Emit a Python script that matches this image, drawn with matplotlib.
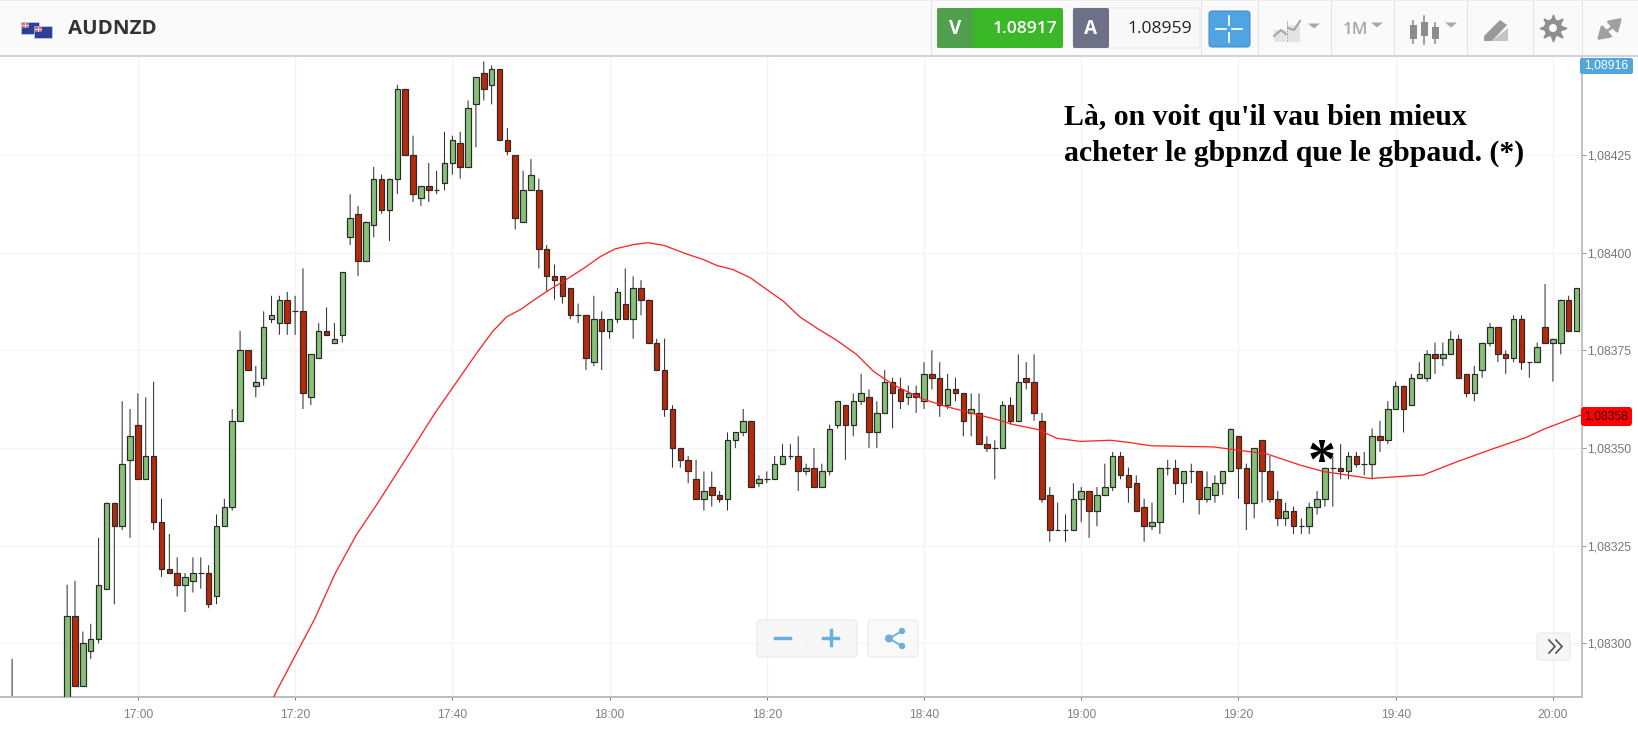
import matplotlib
matplotlib.use("Agg")
import matplotlib.pyplot as plt
from matplotlib.patches import Rectangle, FancyBboxPatch, Circle, Polygon
from matplotlib.ticker import FuncFormatter

# Prices are given in 1e-5 above 1.08000 (e.g. 388 -> 1.08388); minutes counted from 17:00
MINUTES = [-16] + list(range(-9, 184))
OPEN = [278,
 280,307,289,298,301,314,336,330,347,356,342,348,331,319,318,315,316,318,318,312,
 330,335,357,375,366,368,383,382,388,385,385,363,373,380,377,379,404,410,398,407,
 419,411,419,442,425,414,417,416,418,423,428,422,438,446,443,447,429,425,408,416,
 416,401,394,394,391,384,384,372,383,380,383,387,383,391,388,377,370,360,350,347,
 342,337,340,338,337,352,354,357,341,342,342,346,348,348,344,345,340,344,356,361,
 356,362,363,354,359,367,365,363,364,362,369,368,361,365,364,359,359,351,350,350,
 361,357,368,367,357,338,329,329,329,337,339,334,338,340,348,343,341,335,330,331,
 345,345,341,344,344,337,338,341,344,353,345,336,352,344,337,332,334,330,330,335,
 337,345,345,344,348,346,346,353,352,360,366,361,368,368,374,373,374,378,369,364,
 370,377,381,374,373,383,372,372,381,377,377,388,380]
HIGH = [296,
 315,316,303,305,327,336,336,362,360,364,363,367,337,328,322,318,322,322,320,333,
 337,360,380,375,371,385,389,389,390,389,396,374,382,386,382,395,415,412,408,422,
 420,419,443,442,430,417,423,421,431,430,431,439,445,449,448,447,432,425,421,424,
 419,402,397,394,391,387,384,389,385,383,391,396,394,393,388,378,378,361,350,348,
 347,344,344,339,354,354,360,357,343,344,348,351,351,353,346,350,346,356,362,361,
 364,369,365,362,370,368,368,366,366,372,375,372,369,368,364,364,364,353,352,362,
 363,374,372,374,359,340,336,333,341,340,339,340,346,349,349,345,343,337,336,345,
 347,347,344,346,344,344,343,344,355,353,346,350,352,348,339,336,335,332,336,339,
 345,348,351,349,349,349,355,357,362,367,366,369,372,375,377,377,380,379,369,371,
 377,382,381,375,384,384,372,377,392,378,388,389,391]
LOW = [275,
 278,289,289,296,300,314,310,329,327,342,342,329,317,318,312,308,313,314,309,310,
 330,334,357,370,363,366,382,379,379,379,360,361,373,379,377,377,402,394,398,404,
 410,403,415,425,413,412,413,415,416,420,419,422,427,439,438,429,425,406,408,416,
 396,390,388,387,383,382,370,371,370,378,382,383,378,384,377,370,358,345,345,341,
 337,334,335,336,334,350,353,340,340,341,342,346,347,339,343,340,340,343,355,347,
 353,361,350,350,359,355,360,361,359,360,365,358,360,362,353,353,351,349,342,350,
 356,357,365,357,336,326,329,326,329,331,327,330,338,339,342,336,334,326,329,328,
 343,338,336,341,333,336,336,338,344,337,329,332,336,336,330,330,328,328,328,333,
 335,335,342,342,345,343,342,349,351,360,354,361,368,367,369,371,374,368,363,362,
 368,376,372,369,372,370,368,372,377,367,374,380,380]
CLOSE = [280,
 307,289,300,301,315,336,330,346,353,342,348,331,319,318,315,317,318,318,310,330,
 335,357,375,370,367,381,384,388,382,385,364,374,380,379,378,395,409,398,408,419,
 411,419,442,425,415,417,416,416,423,429,422,437,445,442,447,429,426,409,416,420,
 401,394,393,389,384,384,373,383,380,383,390,383,391,388,377,370,360,350,347,344,
 337,339,338,337,352,354,357,340,342,342,346,348,348,344,345,340,344,355,362,356,
 362,364,354,359,367,364,362,364,363,369,368,361,365,364,357,360,351,350,350,361,
 357,367,367,359,337,329,329,329,337,339,334,338,340,348,343,340,334,330,331,345,
 345,341,344,344,337,340,341,344,355,345,336,350,344,337,332,334,330,330,335,337,
 345,345,344,348,346,346,353,352,360,366,360,368,369,374,373,374,378,368,364,369,
 377,381,374,373,383,372,372,376,377,378,388,380,391]

MA_MIN = [17.0,17.7,22.5,25.1,27.8,30.5,34.5,37.8,40.5,43.2,45.1,46.9,48.7,50.3,52.4,54.6,56.7,58.8,60.7,
 63.0,64.9,66.9,69.8,71.9,73.6,75.7,77.9,80.0,82.1,84.2,86.6,88.9,91.4,93.6,96.1,98.7,99.9,102.9,105.9,109.3,111.4,
 114.4,116.9,119.9,123.7,126.2,128.8,133.4,136.8,139.8,143.6,147.9,150.8,156.8,159.7,163.5,167.8,172.5,176.7,178.8,183.6]
MA_VAL = [285,288,306.3,317.9,327.8,335.9,348.5,359,366.8,374.6,379.8,383.6,385.5,387.8,390.6,393.3,396,399,401,
 402.1,402.6,401.9,399.7,398.3,396.8,395.7,393.6,390.6,387.6,383.6,380.4,377.6,374,369.6,366.2,363.6,362.5,360.6,359,357.3,356,
 354.8,352.5,351.7,352,351.4,350.6,350.4,350.3,349.5,348.5,345.6,344,342.2,342.6,343.1,346.5,349.9,352.8,354.8,358.5]

X_TICKS = [0, 20, 40, 60, 80, 100, 120, 140, 160, 180]
X_LABELS = ["17:00","17:20","17:40","18:00","18:20","18:40","19:00","19:20","19:40","20:00"]
Y_TICKS = [300, 325, 350, 375, 400, 425]
NOTE = "Là, on voit qu'il vau bien mieux\nacheter le gbpnzd que le gbpaud. (*)"

def price(v):
    return 1.08 + v / 1e5

W, H = 1638, 730
DPI = 100
PX = 72 / DPI
fig = plt.figure(figsize=(W / DPI, H / DPI), dpi=DPI, facecolor="white")
ax = fig.add_axes([0, (H - 697) / H, 1582 / W, (697 - 56) / H])
ax.set_xlim(-17.54, 183.7)
ax.set_ylim(price(286.25), price(450.4))
ax.set_axisbelow(True)
ax.grid(True, color="#f4f4f4", lw=1.4 * PX)

ax.set_xticks(X_TICKS)
ax.set_xticklabels(X_LABELS)
ax.set_yticks([price(v) for v in Y_TICKS])
ax.yaxis.set_major_formatter(FuncFormatter(lambda v, _: f"{v:.5f}".replace(".", ",")))
ax.yaxis.tick_right()
ax.tick_params(axis="y", length=4 * PX, width=1 * PX, color="#999999", labelcolor="#777777",
               labelsize=12.2 * PX, pad=1 * PX, labelfontfamily="Liberation Sans")
ax.tick_params(axis="x", length=3 * PX, width=1 * PX, color="#777777", labelcolor="#808080",
               labelsize=12 * PX, pad=9 * PX, labelfontfamily="Liberation Sans")
for s in ("top", "left"):
    ax.spines[s].set_visible(False)
ax.spines["bottom"].set(color="#bdbdbd", lw=2 * PX)
ax.spines["right"].set(color="#b5b5b5", lw=1.6 * PX)

GREEN, RED, EDGE = "#86c177", "#b8290a", "#2a2a2a"
for m, o, h, l, c in zip(MINUTES, OPEN, HIGH, LOW, CLOSE):
    ln, = ax.plot([m, m], [price(l), price(h)], color=EDGE, lw=1.0 * PX, zorder=2,
                  solid_capstyle="butt", antialiased=True)
    ln.set_snap(False)
    lo, hi = min(o, c), max(o, c)
    ax.bar(m, price(hi) - price(lo), bottom=price(lo), width=0.7,
           color=GREEN if c >= o else RED, edgecolor=EDGE, lw=1.2 * PX, zorder=3)
ax.plot(MA_MIN, [price(v) for v in MA_VAL], color="#ff2424", lw=1.3 * PX, zorder=4)

# overlay in pixel space for the platform chrome
ui = fig.add_axes([0, 0, 1, 1], zorder=5)
ui.set_xlim(0, W)
ui.set_ylim(H, 0)
ui.axis("off")
ui.patch.set_alpha(0)

def rect(x0, y0, x1, y1, fc, ec="none", lw=0):
    ui.add_patch(Rectangle((x0, y0), x1 - x0, y1 - y0, fc=fc, ec=ec, lw=lw * PX))

def rbox(x0, y0, x1, y1, fc, ec="none", lw=0, r=3, z=2, alpha=None):
    ui.add_patch(FancyBboxPatch((x0 + r, y0 + r), x1 - x0 - 2 * r, y1 - y0 - 2 * r,
                                boxstyle=f"round,pad={r},rounding_size={r}",
                                fc=fc, ec=ec, lw=lw * PX, zorder=z, alpha=alpha))

def label(x, y, s, size, color, weight="normal", ha="center", family="Open Sans", z=6):
    ui.text(x, y, s, fontsize=size * PX, color=color, fontweight=weight, ha=ha, va="center",
            family=family, zorder=z)

def tri(x, y, w=6, h=5, c="#a8a8a8"):
    ui.add_patch(Polygon([(x - w, y - h / 2), (x + w, y - h / 2), (x, y + h / 2)], fc=c, ec="none"))

# header
rect(0, 0, W, 56, "#fafafa")
rect(0, 0, W, 1.2, "#eeeeee")
rect(0, 54.8, W, 56.6, "#d2d2d2")
for xd in (931, 1201, 1258, 1331, 1394, 1467, 1533, 1582):
    rect(xd, 1, xd + 1, 55, "#e3e3e3")

# flags
for x0, y0 in ((21, 22), (34, 26)):
    rect(x0, y0, x0 + 18, y0 + 12, "#2c3f9c", "#d8d8e4", 0.6)
    rect(x0 + 1, y0 + 1, x0 + 8, y0 + 6, "#c06a80")
    rect(x0 + 3.8, y0 + 1, x0 + 5.2, y0 + 6, "#f4e0e4")
    rect(x0 + 1, y0 + 3, x0 + 8, y0 + 4, "#f4e0e4")
label(68, 29.5, "AUDNZD", 20.5, "#333333", "bold", ha="left")

# bid/ask
rbox(937, 8, 1063, 48, "#3ab827", r=2)
rbox(937, 8, 973, 48, "#509f4c", r=2)
label(955, 29, "V", 19, "white", "bold")
label(1025, 29, "1.08917", 17.5, "white", "semibold")
rbox(1073, 8, 1200, 48, "#f8f8f8", "#e6e6e6", 1, r=2)
rbox(1073, 8, 1109, 48, "#6c7188", r=2)
label(1091, 29, "A", 19, "white", "bold")
label(1160, 29, "1.08959", 17.5, "#222222")
rbox(1209, 11, 1250, 47, "#4fa4e2", "#3f88c6", 1, r=3)
for a, b in (((1216, 29), (1226, 29)), ((1232, 29), (1242, 29)), ((1229, 16), (1229, 25)), ((1229, 33), (1229, 42))):
    ui.plot([a[0], b[0]], [a[1], b[1]], color="white", lw=1.8 * PX, zorder=6)

# toolbar icons
GREY = "#a4a4a4"
rect(1274, 30, 1286, 42, "#e4e4e4")
rect(1288, 25, 1300, 42, "#e4e4e4")
ui.plot([1274, 1281, 1286], [36, 30, 34], color=GREY, lw=2 * PX)
ui.plot([1288, 1294, 1300], [28, 30, 21], color=GREY, lw=2 * PX)
ui.plot([1287, 1287], [21, 42], color=GREY, lw=1 * PX, ls=(0, (2, 1)))
tri(1314, 26)
label(1356, 30, "1M", 17, "#a8a8a8", "semibold")
tri(1377, 25)
for xc, t, b, lo, hi in ((1413, 25, 39, 21, 43), (1424, 22, 36, 16, 44), (1435, 27, 39, 23, 43)):
    ui.plot([xc, xc], [lo, hi], color="#8c8c8c", lw=1.6 * PX)
    rect(xc - 3.5, t, xc + 3.5, b, "#8c8c8c")
tri(1451, 25)
ui.add_patch(Polygon([(1484, 36), (1500, 20), (1507, 25), (1492, 41), (1484, 41)], fc="#999999", ec="none"))
ui.add_patch(Polygon([(1492, 41), (1508, 41), (1508, 28)], fc="#c4c4c4", ec="none"))
ui.plot([1553], [28], marker=(8, 1, 0), ms=27 * PX, color="#8f8f8f", zorder=6)
ui.add_patch(Circle((1553, 28), 9, fc="#8f8f8f", ec="none", zorder=6))
ui.add_patch(Circle((1553, 28), 4, fc="#fafafa", ec="none", zorder=7))
for a, b in (((1610, 29), (1622, 18)), ((1608, 30), (1597, 40))):
    ui.annotate("", xy=b, xytext=a, arrowprops=dict(arrowstyle="-|>,head_width=0.45,head_length=0.7",
                color="#a0a0a0", lw=3 * PX, shrinkA=0, shrinkB=0))

# price badges
rbox(1580, 58, 1633, 74, "#52a6da", r=2)
label(1606.5, 66, "1,08916", 12.2, "white", family="Liberation Sans")
rbox(1581, 407, 1632, 426, "#ff0000", r=3)
label(1606.5, 416.5, "1,08358", 12.2, "#3a0000", family="Liberation Sans")

# annotation
ui.text(1064, 135.5, NOTE, fontsize=29.7 * PX, family="Liberation Serif", fontweight="bold",
        color="black", va="center", ha="left", linespacing=1.4, zorder=6)
ui.text(1322, 464, "*", fontsize=56 * PX, family="Liberation Serif", fontweight="bold",
        color="black", va="center", ha="center", zorder=6)

# zoom and share controls
rbox(757, 620, 857, 657, "#f7f7f7", "#e4e4e4", 1, r=3, alpha=0.9)
rect(805.5, 621, 807, 656, "#dddddd")
BLUE = "#6aaedb"
ui.plot([775, 790], [637.5, 637.5], color=BLUE, lw=3.4 * PX, zorder=6)
ui.plot([823, 838], [637.5, 637.5], color=BLUE, lw=3.4 * PX, zorder=6)
ui.plot([830.5, 830.5], [630, 645], color=BLUE, lw=3.4 * PX, zorder=6)
rbox(868, 620, 918, 657, "#f9f9f9", "#e6e6e6", 1, r=3, alpha=0.9)
ui.plot([902, 889, 902], [631, 638.5, 646], color=BLUE, lw=1.8 * PX, zorder=6)
for xc, yc, rc in ((889, 638.5, 4), (902, 631, 3.2), (902, 646, 3.2)):
    ui.add_patch(Circle((xc, yc), rc, fc=BLUE, ec="none", zorder=6))
rbox(1537, 633, 1570, 660, "#f6f6f6", "#e8e8e8", 1, r=2)
for dx in (0, 7):
    ui.plot([1549 + dx, 1555 + dx, 1549 + dx], [640, 646.5, 653], color="#555555", lw=1.7 * PX, zorder=6)

fig.savefig("out.png", dpi=DPI, facecolor="white")
